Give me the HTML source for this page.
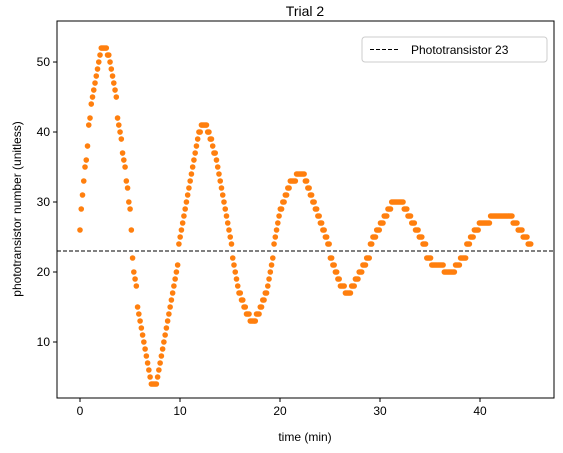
<!DOCTYPE html>
<html><head><meta charset="utf-8"><style>
body{margin:0;background:#fff}
svg{display:block;font-family:"Liberation Sans","DejaVu Sans",sans-serif}
</style></head><body>
<svg id="chart" width="563" height="453">
<rect x="0" y="0" width="563" height="453" fill="#fff"/>
<text x="305" y="16" text-anchor="middle" font-size="14">Trial 2</text>
<g id="ax"></g>
<g id="marks"></g>
<rect x="57" y="21" width="497" height="377" fill="none" stroke="#000" stroke-width="1"/>
<text x="305" y="441" text-anchor="middle" font-size="12">time (min)</text>
<text transform="translate(21,209) rotate(-90)" text-anchor="middle" font-size="12">phototransistor number (unitless)</text>
<g>
<rect x="362" y="37" width="185" height="25" rx="3" fill="#fff" stroke="#ccc"/>
<line x1="370" y1="49.5" x2="398" y2="49.5" stroke="#000" stroke-dasharray="4,2"/>
<text x="411" y="54" font-size="12">Phototransistor 23</text>
</g>
</svg>
<script>
const xTicks=[0,10,20,30,40];
const yTicks=[10,20,30,40,50];
const refValue=23;
const sampleStep=0.1252;
const values=[26,29,31,33,35,36,38,41,42,44,45,46,47,48,49,50,51,
52,52,52,52,52,
51,51,50,49,48,47,46,45,42,41,40,39,37,36,35,33,32,30,29,26,22,20,19,18,15,14,13,12,11,10,9,8,7,6,5,
4,4,4,4,4,
5,6,7,8,9,10,11,12,13,14,15,16,17,18,19,20,21,24,25,26,27,28,29,30,31,32,33,34,35,36,37,38,39,40,40,
41,41,41,41,41,
40,40,39,39,38,37,37,36,35,34,33,32,31,30,29,28,27,26,25,24,22,21,20,19,18,17,17,16,16,15,15,14,14,14,
13,13,13,13,13,
14,14,14,15,15,16,16,17,17,18,19,20,21,22,24,25,26,27,28,29,29,30,30,31,31,32,32,33,33,33,33,33,
34,34,34,34,34,34,34,
33,33,32,32,31,31,30,30,29,29,28,28,27,27,26,26,25,25,24,24,22,22,21,21,20,20,19,19,18,18,18,18,
17,17,17,17,17,
18,18,18,19,19,19,20,20,20,21,21,21,22,22,22,24,24,25,25,25,26,26,26,27,27,27,28,28,28,29,29,29,
30,30,30,30,30,30,30,30,30,30,
29,29,29,28,28,28,27,27,27,26,26,26,25,25,25,24,24,24,22,22,22,22,21,21,21,21,21,21,21,21,21,21,
20,20,20,20,20,20,20,20,20,
21,21,21,21,22,22,22,22,22,24,24,24,25,25,25,26,26,26,26,27,27,27,27,27,27,27,27,27,
28,28,28,28,28,28,28,28,28,28,28,28,28,28,28,28,28,28,
27,27,27,27,26,26,26,26,25,25,25,25,24,24,24];
const X0=57,X1=554,Y0=398,Y1=21,xmin=-2.3,xmax=47.4,ymin=2,ymax=55.86;
function sx(v){return X0+(v-xmin)/(xmax-xmin)*(X1-X0);}
function sy(v){return Y0-(v-ymin)/(ymax-ymin)*(Y0-Y1);}
const NS='http://www.w3.org/2000/svg';
const ax=document.getElementById('ax'),mk=document.getElementById('marks');
function mkEl(t,a){const e=document.createElementNS(NS,t);for(const k in a)e.setAttribute(k,a[k]);return e;}
xTicks.forEach(v=>{
 const l=mkEl('line',{x1:sx(v),x2:sx(v),y1:Y0,y2:Y0+4,stroke:'#000'});
 
 
 ax.appendChild(l);
 const t=mkEl('text',{x:sx(v),y:Y0+17,'text-anchor':'middle','font-size':12});
 
 
 t.textContent=v;ax.appendChild(t);
});
yTicks.forEach(v=>{
 const l=mkEl('line',{x1:X0-4,x2:X0,y1:sy(v),y2:sy(v),stroke:'#000'});
 
 
 ax.appendChild(l);
 const t=mkEl('text',{x:X0-7,y:sy(v)+4,'text-anchor':'end','font-size':12});
 
 
 t.textContent=v;ax.appendChild(t);
});
const rl=mkEl('line',{x1:X0,x2:X1,y1:sy(refValue),y2:sy(refValue),stroke:'#000','stroke-dasharray':'4,2'});


mk.appendChild(rl);
values.forEach((v,i)=>{
 const c=mkEl('circle',{cx:sx(i*sampleStep),cy:sy(v),r:2.8,fill:'#ff7f0e'});
 
 
 mk.appendChild(c);
});
</script>
</body></html>
